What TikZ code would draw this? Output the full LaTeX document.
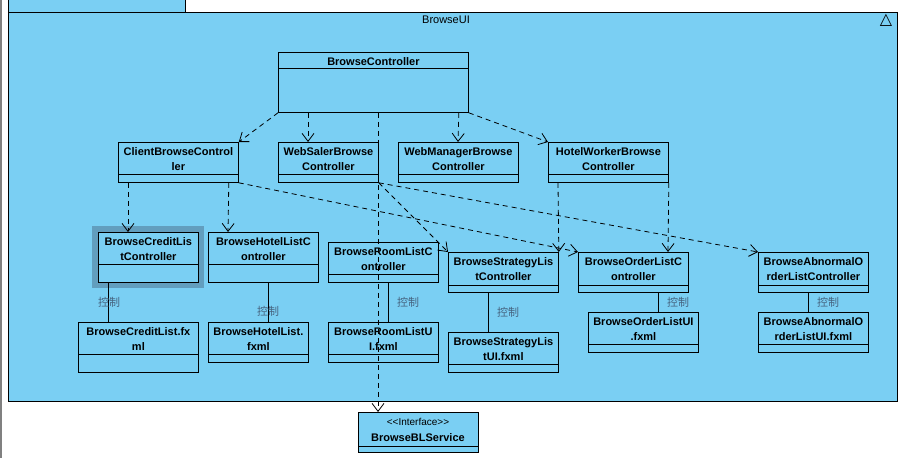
\documentclass[tikz,border=0pt]{standalone}
\usepackage{fontspec}
\setmainfont{Liberation Sans}
\newfontfamily\cjk{Noto Sans CJK SC}
\newfontfamily\symfont{DejaVu Sans}
\usepackage{tikz}
\usetikzlibrary{positioning, arrows.meta}

\definecolor{vpblue}{RGB}{122,207,243}
\definecolor{hiblue}{RGB}{98,158,190}
\definecolor{ctlgray}{RGB}{70,100,128}

\tikzset{
  cls/.style={draw, fill=vpblue, line width=0.8pt, inner sep=0pt, anchor=north west},
  ttl/.style={font=\bfseries\fontsize{11}{15}\selectfont, align=center, anchor=north, inner sep=0pt},
  dep/.style={line width=0.8pt, dash pattern=on 5pt off 4pt, -{Straight Barb[length=8pt,width=12pt]}},
  ctl/.style={line width=0.8pt},
  ctllabel/.style={font=\cjk\fontsize{11}{13}\selectfont, text=ctlgray, inner sep=0pt}
}

% class box: name, x, y, width, height, header height, title
\newcommand\umlbox[7]{%
  \node[cls, minimum width=#4pt, minimum height=#5pt] (#1) at (#2,#3) {};
  \draw[line width=0.8pt] ([yshift=-#6pt]#1.north west) -- ([yshift=-#6pt]#1.north east);
  \node[ttl] (#1-t) at ([yshift=-5pt]#1.north) {#7};
}

\begin{document}
\begin{tikzpicture}[x=1pt, y=-1pt]
\useasboundingbox (0,0) rectangle (904,458);
\fill[white] (0,0) rectangle (904,458);
\fill[gray] (0,0) rectangle (2,458);

% package
\draw[fill=vpblue, line width=0.8pt] (8,-2) rectangle (185,12);
\draw[fill=vpblue, line width=0.8pt] (8,12) rectangle (897,401);
\node[font=\fontsize{11}{13}\selectfont] (pkg) at (446,20) {BrowseUI};
\node[font=\symfont\fontsize{16}{18}\selectfont] (tri) at (886,20) {△};

% highlight
\fill[hiblue] (92,226) rectangle (204,288);

% classes
\umlbox{bc}{278}{52}{190}{60}{16}{BrowseController}
\umlbox{cbc}{118}{142}{120}{40}{32}{ClientBrowseControl\\ler}
\umlbox{wsb}{278}{142}{100}{40}{32}{WebSalerBrowse\\Controller}
\umlbox{wmb}{398}{142}{120}{40}{32}{WebManagerBrowse\\Controller}
\umlbox{hwb}{548}{142}{120}{40}{32}{HotelWorkerBrowse\\Controller}

\umlbox{bclc}{98}{232}{100}{50}{32}{BrowseCreditLis\\tController}
\umlbox{bhlc}{208}{232}{110}{50}{32}{BrowseHotelListC\\ontroller}
\umlbox{brlc}{328}{242}{110}{40}{32}{BrowseRoomListC\\ontroller}
\umlbox{bslc}{448}{252}{110}{40}{33}{BrowseStrategyLis\\tController}
\umlbox{bolc}{578}{252}{110}{40}{33}{BrowseOrderListC\\ontroller}
\umlbox{baolc}{758}{252}{110}{40}{33}{BrowseAbnormalO\\rderListController}

\umlbox{bclf}{78}{322}{120}{50}{32}{BrowseCreditList.fx\\ml}
\umlbox{bhlf}{208}{322}{100}{40}{32}{BrowseHotelList.\\fxml}
\umlbox{brlf}{328}{322}{110}{40}{32}{BrowseRoomListU\\I.fxml}
\umlbox{bslf}{448}{332}{110}{40}{32}{BrowseStrategyLis\\tUI.fxml}
\umlbox{bolf}{588}{312}{110}{40}{32}{BrowseOrderListUI\\.fxml}
\umlbox{baolf}{758}{312}{110}{40}{32}{BrowseAbnormalO\\rderListUI.fxml}

% interface
\node[cls, minimum width=120pt, minimum height=40pt] (bbls) at (358,412) {};
\draw[line width=0.8pt] ([yshift=-34pt]bbls.north west) -- ([yshift=-34pt]bbls.north east);
\node[font=\fontsize{10}{12}\selectfont, inner sep=0pt] (bbls-s) at (418,422) {<{}<Interface>{}>};
\node[font=\bfseries\fontsize{11}{13}\selectfont, inner sep=0pt] (bbls-t) at (418,438) {BrowseBLService};

% dependencies
\draw[dep] (bc.south west) -- (cbc.north east);
\draw[dep] ([xshift=30pt]bc.south west) -- ([xshift=30pt]wsb.north west);
\draw[dep] ([xshift=100pt]bc.south west) -- ([xshift=20pt]bbls.north west);
\draw[dep] ([xshift=-10pt]bc.south east) -- ([xshift=60pt]wmb.north west);
\draw[dep] (bc.south east) -- (hwb.north west);
\draw[dep] ([xshift=10pt]cbc.south west) -- ([xshift=30pt]bclc.north west);
\draw[dep] ([xshift=-10pt]cbc.south east) -- ([xshift=20pt]bhlc.north west);
\draw[dep] (cbc.south east) -- (bolc.north west);
\draw[dep] (wsb.south east) -- (bslc.north west);
\draw[dep] (wsb.south east) -- (baolc.north west);
\draw[dep] ([xshift=10pt]hwb.south west) -- (bslc.north east);
\draw[dep] (hwb.south east) -- ([xshift=90pt]bolc.north west);

% controls
\draw[ctl] ([xshift=10pt]bclc.south west) -- node[ctllabel, xshift=1pt] {控制} ([xshift=30pt]bclf.north west);
\draw[ctl] ([xshift=60pt]bhlc.south west) -- node[ctllabel, pos=0.72] {控制} ([xshift=60pt]bhlf.north west);
\draw[ctl] ([xshift=60pt]brlc.south west) -- node[ctllabel, xshift=20pt] {控制} ([xshift=60pt]brlf.north west);
\draw[ctl] ([xshift=40pt]bslc.south west) -- node[ctllabel, xshift=20pt] {控制} ([xshift=40pt]bslf.north west);
\draw[ctl] ([xshift=80pt]bolc.south west) -- node[ctllabel, xshift=20pt] {控制} ([xshift=70pt]bolf.north west);
\draw[ctl] ([xshift=50pt]baolc.south west) -- node[ctllabel, xshift=20pt] {控制} ([xshift=50pt]baolf.north west);
\end{tikzpicture}
\end{document}
